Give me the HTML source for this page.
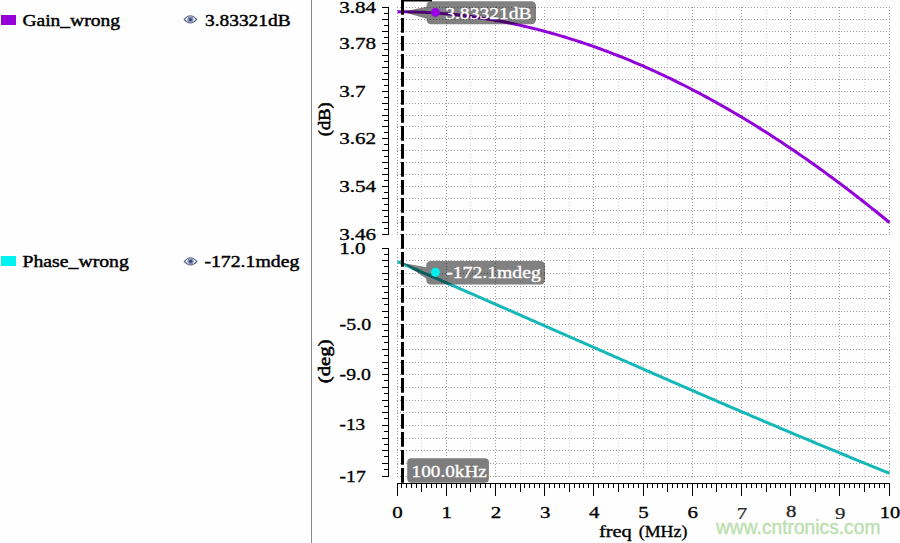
<!DOCTYPE html>
<html><head><meta charset="utf-8"><title>Waveform</title>
<style>html,body{margin:0;padding:0;background:#fefefe;width:900px;height:543px;overflow:hidden}svg{display:block}</style>
</head><body>
<svg width="900" height="543" viewBox="0 0 900 543">
<rect width="900" height="543" fill="#fefefe"/>
<rect x="311" y="0" width="1" height="543" fill="#8a8a8a"/>
<g shape-rendering="crispEdges"><line x1="397.5" y1="7" x2="397.5" y2="235" stroke="#9c9c9c" stroke-width="1" stroke-dasharray="1 2"/><line x1="421.5" y1="7" x2="421.5" y2="235" stroke="#d4d4d4" stroke-width="1" stroke-dasharray="1 2"/><line x1="446.5" y1="7" x2="446.5" y2="235" stroke="#9c9c9c" stroke-width="1" stroke-dasharray="1 2"/><line x1="470.5" y1="7" x2="470.5" y2="235" stroke="#d4d4d4" stroke-width="1" stroke-dasharray="1 2"/><line x1="495.5" y1="7" x2="495.5" y2="235" stroke="#9c9c9c" stroke-width="1" stroke-dasharray="1 2"/><line x1="520.5" y1="7" x2="520.5" y2="235" stroke="#d4d4d4" stroke-width="1" stroke-dasharray="1 2"/><line x1="544.5" y1="7" x2="544.5" y2="235" stroke="#9c9c9c" stroke-width="1" stroke-dasharray="1 2"/><line x1="569.5" y1="7" x2="569.5" y2="235" stroke="#d4d4d4" stroke-width="1" stroke-dasharray="1 2"/><line x1="593.5" y1="7" x2="593.5" y2="235" stroke="#9c9c9c" stroke-width="1" stroke-dasharray="1 2"/><line x1="618.5" y1="7" x2="618.5" y2="235" stroke="#d4d4d4" stroke-width="1" stroke-dasharray="1 2"/><line x1="643.5" y1="7" x2="643.5" y2="235" stroke="#9c9c9c" stroke-width="1" stroke-dasharray="1 2"/><line x1="667.5" y1="7" x2="667.5" y2="235" stroke="#d4d4d4" stroke-width="1" stroke-dasharray="1 2"/><line x1="692.5" y1="7" x2="692.5" y2="235" stroke="#9c9c9c" stroke-width="1" stroke-dasharray="1 2"/><line x1="716.5" y1="7" x2="716.5" y2="235" stroke="#d4d4d4" stroke-width="1" stroke-dasharray="1 2"/><line x1="741.5" y1="7" x2="741.5" y2="235" stroke="#9c9c9c" stroke-width="1" stroke-dasharray="1 2"/><line x1="766.5" y1="7" x2="766.5" y2="235" stroke="#d4d4d4" stroke-width="1" stroke-dasharray="1 2"/><line x1="790.5" y1="7" x2="790.5" y2="235" stroke="#9c9c9c" stroke-width="1" stroke-dasharray="1 2"/><line x1="815.5" y1="7" x2="815.5" y2="235" stroke="#d4d4d4" stroke-width="1" stroke-dasharray="1 2"/><line x1="839.5" y1="7" x2="839.5" y2="235" stroke="#9c9c9c" stroke-width="1" stroke-dasharray="1 2"/><line x1="864.5" y1="7" x2="864.5" y2="235" stroke="#d4d4d4" stroke-width="1" stroke-dasharray="1 2"/><line x1="889.5" y1="7" x2="889.5" y2="235" stroke="#9c9c9c" stroke-width="1" stroke-dasharray="1 2"/><line x1="397" y1="7.5" x2="890" y2="7.5" stroke="#9c9c9c" stroke-width="1" stroke-dasharray="1 2"/><line x1="397" y1="19.5" x2="890" y2="19.5" stroke="#9c9c9c" stroke-width="1" stroke-dasharray="1 2"/><line x1="397" y1="31.5" x2="890" y2="31.5" stroke="#9c9c9c" stroke-width="1" stroke-dasharray="1 2"/><line x1="397" y1="43.5" x2="890" y2="43.5" stroke="#9c9c9c" stroke-width="1" stroke-dasharray="1 2"/><line x1="397" y1="55.5" x2="890" y2="55.5" stroke="#9c9c9c" stroke-width="1" stroke-dasharray="1 2"/><line x1="397" y1="67.5" x2="890" y2="67.5" stroke="#9c9c9c" stroke-width="1" stroke-dasharray="1 2"/><line x1="397" y1="79.5" x2="890" y2="79.5" stroke="#9c9c9c" stroke-width="1" stroke-dasharray="1 2"/><line x1="397" y1="91.5" x2="890" y2="91.5" stroke="#9c9c9c" stroke-width="1" stroke-dasharray="1 2"/><line x1="397" y1="103.5" x2="890" y2="103.5" stroke="#9c9c9c" stroke-width="1" stroke-dasharray="1 2"/><line x1="397" y1="115.5" x2="890" y2="115.5" stroke="#9c9c9c" stroke-width="1" stroke-dasharray="1 2"/><line x1="397" y1="126.5" x2="890" y2="126.5" stroke="#9c9c9c" stroke-width="1" stroke-dasharray="1 2"/><line x1="397" y1="138.5" x2="890" y2="138.5" stroke="#9c9c9c" stroke-width="1" stroke-dasharray="1 2"/><line x1="397" y1="150.5" x2="890" y2="150.5" stroke="#9c9c9c" stroke-width="1" stroke-dasharray="1 2"/><line x1="397" y1="162.5" x2="890" y2="162.5" stroke="#9c9c9c" stroke-width="1" stroke-dasharray="1 2"/><line x1="397" y1="174.5" x2="890" y2="174.5" stroke="#9c9c9c" stroke-width="1" stroke-dasharray="1 2"/><line x1="397" y1="186.5" x2="890" y2="186.5" stroke="#9c9c9c" stroke-width="1" stroke-dasharray="1 2"/><line x1="397" y1="198.5" x2="890" y2="198.5" stroke="#9c9c9c" stroke-width="1" stroke-dasharray="1 2"/><line x1="397" y1="210.5" x2="890" y2="210.5" stroke="#9c9c9c" stroke-width="1" stroke-dasharray="1 2"/><line x1="397" y1="222.5" x2="890" y2="222.5" stroke="#9c9c9c" stroke-width="1" stroke-dasharray="1 2"/><line x1="397" y1="234.5" x2="890" y2="234.5" stroke="#9c9c9c" stroke-width="1" stroke-dasharray="1 2"/><line x1="397.5" y1="248" x2="397.5" y2="477" stroke="#9c9c9c" stroke-width="1" stroke-dasharray="1 2"/><line x1="421.5" y1="248" x2="421.5" y2="477" stroke="#d4d4d4" stroke-width="1" stroke-dasharray="1 2"/><line x1="446.5" y1="248" x2="446.5" y2="477" stroke="#9c9c9c" stroke-width="1" stroke-dasharray="1 2"/><line x1="470.5" y1="248" x2="470.5" y2="477" stroke="#d4d4d4" stroke-width="1" stroke-dasharray="1 2"/><line x1="495.5" y1="248" x2="495.5" y2="477" stroke="#9c9c9c" stroke-width="1" stroke-dasharray="1 2"/><line x1="520.5" y1="248" x2="520.5" y2="477" stroke="#d4d4d4" stroke-width="1" stroke-dasharray="1 2"/><line x1="544.5" y1="248" x2="544.5" y2="477" stroke="#9c9c9c" stroke-width="1" stroke-dasharray="1 2"/><line x1="569.5" y1="248" x2="569.5" y2="477" stroke="#d4d4d4" stroke-width="1" stroke-dasharray="1 2"/><line x1="593.5" y1="248" x2="593.5" y2="477" stroke="#9c9c9c" stroke-width="1" stroke-dasharray="1 2"/><line x1="618.5" y1="248" x2="618.5" y2="477" stroke="#d4d4d4" stroke-width="1" stroke-dasharray="1 2"/><line x1="643.5" y1="248" x2="643.5" y2="477" stroke="#9c9c9c" stroke-width="1" stroke-dasharray="1 2"/><line x1="667.5" y1="248" x2="667.5" y2="477" stroke="#d4d4d4" stroke-width="1" stroke-dasharray="1 2"/><line x1="692.5" y1="248" x2="692.5" y2="477" stroke="#9c9c9c" stroke-width="1" stroke-dasharray="1 2"/><line x1="716.5" y1="248" x2="716.5" y2="477" stroke="#d4d4d4" stroke-width="1" stroke-dasharray="1 2"/><line x1="741.5" y1="248" x2="741.5" y2="477" stroke="#9c9c9c" stroke-width="1" stroke-dasharray="1 2"/><line x1="766.5" y1="248" x2="766.5" y2="477" stroke="#d4d4d4" stroke-width="1" stroke-dasharray="1 2"/><line x1="790.5" y1="248" x2="790.5" y2="477" stroke="#9c9c9c" stroke-width="1" stroke-dasharray="1 2"/><line x1="815.5" y1="248" x2="815.5" y2="477" stroke="#d4d4d4" stroke-width="1" stroke-dasharray="1 2"/><line x1="839.5" y1="248" x2="839.5" y2="477" stroke="#9c9c9c" stroke-width="1" stroke-dasharray="1 2"/><line x1="864.5" y1="248" x2="864.5" y2="477" stroke="#d4d4d4" stroke-width="1" stroke-dasharray="1 2"/><line x1="889.5" y1="248" x2="889.5" y2="477" stroke="#9c9c9c" stroke-width="1" stroke-dasharray="1 2"/><line x1="397" y1="248.5" x2="890" y2="248.5" stroke="#9c9c9c" stroke-width="1" stroke-dasharray="1 2"/><line x1="397" y1="260.5" x2="890" y2="260.5" stroke="#9c9c9c" stroke-width="1" stroke-dasharray="1 2"/><line x1="397" y1="273.5" x2="890" y2="273.5" stroke="#9c9c9c" stroke-width="1" stroke-dasharray="1 2"/><line x1="397" y1="286.5" x2="890" y2="286.5" stroke="#9c9c9c" stroke-width="1" stroke-dasharray="1 2"/><line x1="397" y1="298.5" x2="890" y2="298.5" stroke="#9c9c9c" stroke-width="1" stroke-dasharray="1 2"/><line x1="397" y1="311.5" x2="890" y2="311.5" stroke="#9c9c9c" stroke-width="1" stroke-dasharray="1 2"/><line x1="397" y1="324.5" x2="890" y2="324.5" stroke="#9c9c9c" stroke-width="1" stroke-dasharray="1 2"/><line x1="397" y1="336.5" x2="890" y2="336.5" stroke="#9c9c9c" stroke-width="1" stroke-dasharray="1 2"/><line x1="397" y1="349.5" x2="890" y2="349.5" stroke="#9c9c9c" stroke-width="1" stroke-dasharray="1 2"/><line x1="397" y1="362.5" x2="890" y2="362.5" stroke="#9c9c9c" stroke-width="1" stroke-dasharray="1 2"/><line x1="397" y1="374.5" x2="890" y2="374.5" stroke="#9c9c9c" stroke-width="1" stroke-dasharray="1 2"/><line x1="397" y1="387.5" x2="890" y2="387.5" stroke="#9c9c9c" stroke-width="1" stroke-dasharray="1 2"/><line x1="397" y1="400.5" x2="890" y2="400.5" stroke="#9c9c9c" stroke-width="1" stroke-dasharray="1 2"/><line x1="397" y1="412.5" x2="890" y2="412.5" stroke="#9c9c9c" stroke-width="1" stroke-dasharray="1 2"/><line x1="397" y1="425.5" x2="890" y2="425.5" stroke="#9c9c9c" stroke-width="1" stroke-dasharray="1 2"/><line x1="397" y1="438.5" x2="890" y2="438.5" stroke="#9c9c9c" stroke-width="1" stroke-dasharray="1 2"/><line x1="397" y1="450.5" x2="890" y2="450.5" stroke="#9c9c9c" stroke-width="1" stroke-dasharray="1 2"/><line x1="397" y1="463.5" x2="890" y2="463.5" stroke="#9c9c9c" stroke-width="1" stroke-dasharray="1 2"/><line x1="397" y1="476.5" x2="890" y2="476.5" stroke="#9c9c9c" stroke-width="1" stroke-dasharray="1 2"/></g>
<g shape-rendering="crispEdges"><rect x="388" y="7" width="1" height="228" fill="#000"/><rect x="388" y="248" width="1" height="229" fill="#000"/><rect x="382" y="7" width="6" height="1" fill="#000"/><rect x="384" y="13" width="4" height="1" fill="#000"/><rect x="382" y="19" width="6" height="1" fill="#000"/><rect x="384" y="25" width="4" height="1" fill="#000"/><rect x="382" y="31" width="6" height="1" fill="#000"/><rect x="384" y="37" width="4" height="1" fill="#000"/><rect x="382" y="43" width="6" height="1" fill="#000"/><rect x="384" y="49" width="4" height="1" fill="#000"/><rect x="382" y="55" width="6" height="1" fill="#000"/><rect x="384" y="61" width="4" height="1" fill="#000"/><rect x="382" y="67" width="6" height="1" fill="#000"/><rect x="384" y="73" width="4" height="1" fill="#000"/><rect x="382" y="79" width="6" height="1" fill="#000"/><rect x="384" y="85" width="4" height="1" fill="#000"/><rect x="382" y="91" width="6" height="1" fill="#000"/><rect x="384" y="97" width="4" height="1" fill="#000"/><rect x="382" y="103" width="6" height="1" fill="#000"/><rect x="384" y="109" width="4" height="1" fill="#000"/><rect x="382" y="115" width="6" height="1" fill="#000"/><rect x="384" y="120" width="4" height="1" fill="#000"/><rect x="382" y="126" width="6" height="1" fill="#000"/><rect x="384" y="132" width="4" height="1" fill="#000"/><rect x="382" y="138" width="6" height="1" fill="#000"/><rect x="384" y="144" width="4" height="1" fill="#000"/><rect x="382" y="150" width="6" height="1" fill="#000"/><rect x="384" y="156" width="4" height="1" fill="#000"/><rect x="382" y="162" width="6" height="1" fill="#000"/><rect x="384" y="168" width="4" height="1" fill="#000"/><rect x="382" y="174" width="6" height="1" fill="#000"/><rect x="384" y="180" width="4" height="1" fill="#000"/><rect x="382" y="186" width="6" height="1" fill="#000"/><rect x="384" y="192" width="4" height="1" fill="#000"/><rect x="382" y="198" width="6" height="1" fill="#000"/><rect x="384" y="204" width="4" height="1" fill="#000"/><rect x="382" y="210" width="6" height="1" fill="#000"/><rect x="384" y="216" width="4" height="1" fill="#000"/><rect x="382" y="222" width="6" height="1" fill="#000"/><rect x="384" y="228" width="4" height="1" fill="#000"/><rect x="382" y="234" width="6" height="1" fill="#000"/><rect x="382" y="248" width="6" height="1" fill="#000"/><rect x="384" y="254" width="4" height="1" fill="#000"/><rect x="382" y="260" width="6" height="1" fill="#000"/><rect x="384" y="266" width="4" height="1" fill="#000"/><rect x="382" y="273" width="6" height="1" fill="#000"/><rect x="384" y="279" width="4" height="1" fill="#000"/><rect x="382" y="286" width="6" height="1" fill="#000"/><rect x="384" y="292" width="4" height="1" fill="#000"/><rect x="382" y="298" width="6" height="1" fill="#000"/><rect x="384" y="304" width="4" height="1" fill="#000"/><rect x="382" y="311" width="6" height="1" fill="#000"/><rect x="384" y="317" width="4" height="1" fill="#000"/><rect x="382" y="324" width="6" height="1" fill="#000"/><rect x="384" y="330" width="4" height="1" fill="#000"/><rect x="382" y="336" width="6" height="1" fill="#000"/><rect x="384" y="342" width="4" height="1" fill="#000"/><rect x="382" y="349" width="6" height="1" fill="#000"/><rect x="384" y="355" width="4" height="1" fill="#000"/><rect x="382" y="362" width="6" height="1" fill="#000"/><rect x="384" y="368" width="4" height="1" fill="#000"/><rect x="382" y="374" width="6" height="1" fill="#000"/><rect x="384" y="380" width="4" height="1" fill="#000"/><rect x="382" y="387" width="6" height="1" fill="#000"/><rect x="384" y="393" width="4" height="1" fill="#000"/><rect x="382" y="400" width="6" height="1" fill="#000"/><rect x="384" y="406" width="4" height="1" fill="#000"/><rect x="382" y="412" width="6" height="1" fill="#000"/><rect x="384" y="418" width="4" height="1" fill="#000"/><rect x="382" y="425" width="6" height="1" fill="#000"/><rect x="384" y="431" width="4" height="1" fill="#000"/><rect x="382" y="438" width="6" height="1" fill="#000"/><rect x="384" y="444" width="4" height="1" fill="#000"/><rect x="382" y="450" width="6" height="1" fill="#000"/><rect x="384" y="456" width="4" height="1" fill="#000"/><rect x="382" y="463" width="6" height="1" fill="#000"/><rect x="384" y="469" width="4" height="1" fill="#000"/><rect x="382" y="476" width="6" height="1" fill="#000"/><rect x="397" y="483" width="493" height="1" fill="#000"/><rect x="397" y="483" width="1" height="13" fill="#000"/><rect x="401" y="483" width="1" height="5" fill="#000"/><rect x="406" y="483" width="1" height="5" fill="#000"/><rect x="411" y="483" width="1" height="5" fill="#000"/><rect x="416" y="483" width="1" height="5" fill="#000"/><rect x="421" y="483" width="1" height="9" fill="#000"/><rect x="426" y="483" width="1" height="5" fill="#000"/><rect x="431" y="483" width="1" height="5" fill="#000"/><rect x="436" y="483" width="1" height="5" fill="#000"/><rect x="441" y="483" width="1" height="5" fill="#000"/><rect x="446" y="483" width="1" height="13" fill="#000"/><rect x="451" y="483" width="1" height="5" fill="#000"/><rect x="456" y="483" width="1" height="5" fill="#000"/><rect x="460" y="483" width="1" height="5" fill="#000"/><rect x="465" y="483" width="1" height="5" fill="#000"/><rect x="470" y="483" width="1" height="9" fill="#000"/><rect x="475" y="483" width="1" height="5" fill="#000"/><rect x="480" y="483" width="1" height="5" fill="#000"/><rect x="485" y="483" width="1" height="5" fill="#000"/><rect x="490" y="483" width="1" height="5" fill="#000"/><rect x="495" y="483" width="1" height="13" fill="#000"/><rect x="500" y="483" width="1" height="5" fill="#000"/><rect x="505" y="483" width="1" height="5" fill="#000"/><rect x="510" y="483" width="1" height="5" fill="#000"/><rect x="515" y="483" width="1" height="5" fill="#000"/><rect x="520" y="483" width="1" height="9" fill="#000"/><rect x="524" y="483" width="1" height="5" fill="#000"/><rect x="529" y="483" width="1" height="5" fill="#000"/><rect x="534" y="483" width="1" height="5" fill="#000"/><rect x="539" y="483" width="1" height="5" fill="#000"/><rect x="544" y="483" width="1" height="13" fill="#000"/><rect x="549" y="483" width="1" height="5" fill="#000"/><rect x="554" y="483" width="1" height="5" fill="#000"/><rect x="559" y="483" width="1" height="5" fill="#000"/><rect x="564" y="483" width="1" height="5" fill="#000"/><rect x="569" y="483" width="1" height="9" fill="#000"/><rect x="574" y="483" width="1" height="5" fill="#000"/><rect x="579" y="483" width="1" height="5" fill="#000"/><rect x="583" y="483" width="1" height="5" fill="#000"/><rect x="588" y="483" width="1" height="5" fill="#000"/><rect x="593" y="483" width="1" height="13" fill="#000"/><rect x="598" y="483" width="1" height="5" fill="#000"/><rect x="603" y="483" width="1" height="5" fill="#000"/><rect x="608" y="483" width="1" height="5" fill="#000"/><rect x="613" y="483" width="1" height="5" fill="#000"/><rect x="618" y="483" width="1" height="9" fill="#000"/><rect x="623" y="483" width="1" height="5" fill="#000"/><rect x="628" y="483" width="1" height="5" fill="#000"/><rect x="633" y="483" width="1" height="5" fill="#000"/><rect x="638" y="483" width="1" height="5" fill="#000"/><rect x="643" y="483" width="1" height="13" fill="#000"/><rect x="647" y="483" width="1" height="5" fill="#000"/><rect x="652" y="483" width="1" height="5" fill="#000"/><rect x="657" y="483" width="1" height="5" fill="#000"/><rect x="662" y="483" width="1" height="5" fill="#000"/><rect x="667" y="483" width="1" height="9" fill="#000"/><rect x="672" y="483" width="1" height="5" fill="#000"/><rect x="677" y="483" width="1" height="5" fill="#000"/><rect x="682" y="483" width="1" height="5" fill="#000"/><rect x="687" y="483" width="1" height="5" fill="#000"/><rect x="692" y="483" width="1" height="13" fill="#000"/><rect x="697" y="483" width="1" height="5" fill="#000"/><rect x="702" y="483" width="1" height="5" fill="#000"/><rect x="706" y="483" width="1" height="5" fill="#000"/><rect x="711" y="483" width="1" height="5" fill="#000"/><rect x="716" y="483" width="1" height="9" fill="#000"/><rect x="721" y="483" width="1" height="5" fill="#000"/><rect x="726" y="483" width="1" height="5" fill="#000"/><rect x="731" y="483" width="1" height="5" fill="#000"/><rect x="736" y="483" width="1" height="5" fill="#000"/><rect x="741" y="483" width="1" height="13" fill="#000"/><rect x="746" y="483" width="1" height="5" fill="#000"/><rect x="751" y="483" width="1" height="5" fill="#000"/><rect x="756" y="483" width="1" height="5" fill="#000"/><rect x="761" y="483" width="1" height="5" fill="#000"/><rect x="766" y="483" width="1" height="9" fill="#000"/><rect x="770" y="483" width="1" height="5" fill="#000"/><rect x="775" y="483" width="1" height="5" fill="#000"/><rect x="780" y="483" width="1" height="5" fill="#000"/><rect x="785" y="483" width="1" height="5" fill="#000"/><rect x="790" y="483" width="1" height="13" fill="#000"/><rect x="795" y="483" width="1" height="5" fill="#000"/><rect x="800" y="483" width="1" height="5" fill="#000"/><rect x="805" y="483" width="1" height="5" fill="#000"/><rect x="810" y="483" width="1" height="5" fill="#000"/><rect x="815" y="483" width="1" height="9" fill="#000"/><rect x="820" y="483" width="1" height="5" fill="#000"/><rect x="825" y="483" width="1" height="5" fill="#000"/><rect x="829" y="483" width="1" height="5" fill="#000"/><rect x="834" y="483" width="1" height="5" fill="#000"/><rect x="839" y="483" width="1" height="13" fill="#000"/><rect x="844" y="483" width="1" height="5" fill="#000"/><rect x="849" y="483" width="1" height="5" fill="#000"/><rect x="854" y="483" width="1" height="5" fill="#000"/><rect x="859" y="483" width="1" height="5" fill="#000"/><rect x="864" y="483" width="1" height="9" fill="#000"/><rect x="869" y="483" width="1" height="5" fill="#000"/><rect x="874" y="483" width="1" height="5" fill="#000"/><rect x="879" y="483" width="1" height="5" fill="#000"/><rect x="884" y="483" width="1" height="5" fill="#000"/><rect x="889" y="483" width="1" height="13" fill="#000"/></g>
<g><path d="M397.50,11.79 L399.96,11.79 L402.42,11.79 L404.88,11.81 L407.34,11.84 L409.80,11.88 L412.26,11.93 L414.72,12.00 L417.18,12.07 L419.64,12.16 L422.10,12.25 L424.56,12.36 L427.02,12.48 L429.48,12.62 L431.94,12.76 L434.40,12.91 L436.86,13.08 L439.32,13.26 L441.78,13.45 L444.24,13.65 L446.70,13.86 L449.16,14.08 L451.62,14.32 L454.08,14.56 L456.54,14.82 L459.00,15.09 L461.46,15.37 L463.92,15.66 L466.38,15.96 L468.84,16.27 L471.30,16.60 L473.76,16.93 L476.22,17.28 L478.68,17.63 L481.14,18.00 L483.60,18.38 L486.06,18.77 L488.52,19.18 L490.98,19.59 L493.44,20.01 L495.90,20.45 L498.36,20.90 L500.82,21.35 L503.28,21.82 L505.74,22.30 L508.20,22.79 L510.66,23.29 L513.12,23.80 L515.58,24.33 L518.04,24.86 L520.50,25.41 L522.96,25.96 L525.42,26.53 L527.88,27.11 L530.34,27.69 L532.80,28.29 L535.26,28.90 L537.72,29.52 L540.18,30.16 L542.64,30.80 L545.10,31.45 L547.56,32.12 L550.02,32.79 L552.48,33.48 L554.94,34.17 L557.40,34.88 L559.86,35.60 L562.32,36.32 L564.78,37.06 L567.24,37.81 L569.70,38.57 L572.16,39.34 L574.62,40.12 L577.08,40.92 L579.54,41.72 L582.00,42.53 L584.46,43.35 L586.92,44.19 L589.38,45.03 L591.84,45.89 L594.30,46.75 L596.76,47.63 L599.22,48.52 L601.68,49.41 L604.14,50.32 L606.60,51.24 L609.06,52.17 L611.52,53.10 L613.98,54.05 L616.44,55.01 L618.90,55.98 L621.36,56.96 L623.82,57.95 L626.28,58.95 L628.74,59.96 L631.20,60.98 L633.66,62.02 L636.12,63.06 L638.58,64.11 L641.04,65.17 L643.50,66.24 L645.96,67.32 L648.42,68.42 L650.88,69.52 L653.34,70.63 L655.80,71.76 L658.26,72.89 L660.72,74.03 L663.18,75.18 L665.64,76.35 L668.10,77.52 L670.56,78.70 L673.02,79.90 L675.48,81.10 L677.94,82.31 L680.40,83.54 L682.86,84.77 L685.32,86.01 L687.78,87.27 L690.24,88.53 L692.70,89.80 L695.16,91.09 L697.62,92.38 L700.08,93.68 L702.54,94.99 L705.00,96.32 L707.46,97.65 L709.92,98.99 L712.38,100.34 L714.84,101.71 L717.30,103.08 L719.76,104.46 L722.22,105.85 L724.68,107.25 L727.14,108.66 L729.60,110.08 L732.06,111.51 L734.52,112.95 L736.98,114.40 L739.44,115.86 L741.90,117.33 L744.36,118.80 L746.82,120.29 L749.28,121.79 L751.74,123.29 L754.20,124.81 L756.66,126.34 L759.12,127.87 L761.58,129.42 L764.04,130.97 L766.50,132.54 L768.96,134.11 L771.42,135.69 L773.88,137.28 L776.34,138.89 L778.80,140.50 L781.26,142.12 L783.72,143.75 L786.18,145.39 L788.64,147.03 L791.10,148.69 L793.56,150.36 L796.02,152.04 L798.48,153.72 L800.94,155.42 L803.40,157.12 L805.86,158.84 L808.32,160.56 L810.78,162.29 L813.24,164.03 L815.70,165.78 L818.16,167.54 L820.62,169.31 L823.08,171.09 L825.54,172.88 L828.00,174.67 L830.46,176.48 L832.92,178.30 L835.38,180.12 L837.84,181.95 L840.30,183.79 L842.76,185.65 L845.22,187.51 L847.68,189.37 L850.14,191.25 L852.60,193.14 L855.06,195.04 L857.52,196.94 L859.98,198.85 L862.44,200.78 L864.90,202.71 L867.36,204.65 L869.82,206.60 L872.28,208.56 L874.74,210.53 L877.20,212.50 L879.66,214.49 L882.12,216.48 L884.58,218.48 L887.04,220.50 L889.50,222.52" fill="none" stroke="#9200da" stroke-width="3" stroke-linejoin="round"/><path d="M397.50,261.65 L399.96,262.70 L402.42,263.76 L404.88,264.82 L407.34,265.88 L409.80,266.95 L412.26,268.01 L414.72,269.07 L417.18,270.13 L419.64,271.20 L422.10,272.26 L424.56,273.33 L427.02,274.39 L429.48,275.46 L431.94,276.53 L434.40,277.59 L436.86,278.66 L439.32,279.73 L441.78,280.80 L444.24,281.87 L446.70,282.94 L449.16,284.01 L451.62,285.08 L454.08,286.15 L456.54,287.22 L459.00,288.30 L461.46,289.37 L463.92,290.44 L466.38,291.52 L468.84,292.59 L471.30,293.66 L473.76,294.74 L476.22,295.81 L478.68,296.89 L481.14,297.96 L483.60,299.04 L486.06,300.12 L488.52,301.19 L490.98,302.27 L493.44,303.35 L495.90,304.43 L498.36,305.50 L500.82,306.58 L503.28,307.66 L505.74,308.74 L508.20,309.82 L510.66,310.90 L513.12,311.98 L515.58,313.06 L518.04,314.14 L520.50,315.21 L522.96,316.29 L525.42,317.38 L527.88,318.46 L530.34,319.54 L532.80,320.62 L535.26,321.70 L537.72,322.78 L540.18,323.86 L542.64,324.94 L545.10,326.02 L547.56,327.10 L550.02,328.18 L552.48,329.26 L554.94,330.35 L557.40,331.43 L559.86,332.51 L562.32,333.59 L564.78,334.67 L567.24,335.75 L569.70,336.83 L572.16,337.92 L574.62,339.00 L577.08,340.08 L579.54,341.16 L582.00,342.24 L584.46,343.32 L586.92,344.40 L589.38,345.48 L591.84,346.56 L594.30,347.64 L596.76,348.72 L599.22,349.80 L601.68,350.88 L604.14,351.96 L606.60,353.04 L609.06,354.12 L611.52,355.20 L613.98,356.28 L616.44,357.36 L618.90,358.44 L621.36,359.52 L623.82,360.59 L626.28,361.67 L628.74,362.75 L631.20,363.83 L633.66,364.90 L636.12,365.98 L638.58,367.06 L641.04,368.13 L643.50,369.21 L645.96,370.28 L648.42,371.36 L650.88,372.43 L653.34,373.51 L655.80,374.58 L658.26,375.65 L660.72,376.73 L663.18,377.80 L665.64,378.87 L668.10,379.94 L670.56,381.01 L673.02,382.08 L675.48,383.15 L677.94,384.22 L680.40,385.29 L682.86,386.36 L685.32,387.43 L687.78,388.50 L690.24,389.56 L692.70,390.63 L695.16,391.70 L697.62,392.76 L700.08,393.83 L702.54,394.89 L705.00,395.95 L707.46,397.02 L709.92,398.08 L712.38,399.14 L714.84,400.20 L717.30,401.26 L719.76,402.32 L722.22,403.38 L724.68,404.44 L727.14,405.50 L729.60,406.56 L732.06,407.61 L734.52,408.67 L736.98,409.72 L739.44,410.78 L741.90,411.83 L744.36,412.88 L746.82,413.93 L749.28,414.98 L751.74,416.04 L754.20,417.08 L756.66,418.13 L759.12,419.18 L761.58,420.23 L764.04,421.27 L766.50,422.32 L768.96,423.36 L771.42,424.41 L773.88,425.45 L776.34,426.49 L778.80,427.53 L781.26,428.57 L783.72,429.61 L786.18,430.65 L788.64,431.69 L791.10,432.72 L793.56,433.76 L796.02,434.79 L798.48,435.82 L800.94,436.86 L803.40,437.89 L805.86,438.92 L808.32,439.95 L810.78,440.97 L813.24,442.00 L815.70,443.03 L818.16,444.05 L820.62,445.07 L823.08,446.10 L825.54,447.12 L828.00,448.14 L830.46,449.16 L832.92,450.18 L835.38,451.19 L837.84,452.21 L840.30,453.22 L842.76,454.24 L845.22,455.25 L847.68,456.26 L850.14,457.27 L852.60,458.28 L855.06,459.28 L857.52,460.29 L859.98,461.29 L862.44,462.30 L864.90,463.30 L867.36,464.30 L869.82,465.30 L872.28,466.30 L874.74,467.30 L877.20,468.29 L879.66,469.29 L882.12,470.28 L884.58,471.27 L887.04,472.26 L889.50,473.25" fill="none" stroke="#14b8b8" stroke-width="3" stroke-linejoin="round"/></g>
<g><line x1="402.5" y1="0" x2="402.5" y2="483" stroke="#000" stroke-width="3" stroke-dasharray="14.7 3.3"/><rect x="401" y="0" width="31" height="1.5" fill="#000"/></g>
<g><path d="M402.5,11.8 L426.5,6.75 L426.5,6.3 Q426.5,1.3 431.5,1.3 L531.0,1.3 Q536.0,1.3 536.0,6.3 L536.0,19.2 Q536.0,24.2 531.0,24.2 L431.5,24.2 Q426.5,24.2 426.5,19.2 L426.5,18.75 Z" fill="rgba(0,0,0,0.49)"/><circle cx="435.4" cy="12.4" r="4.5" fill="#9a00e6"/><path d="M402.8,263.1 L426.2,267.2 L426.2,266.0 Q426.2,261.0 431.2,261.0 L540.0,261.0 Q545.0,261.0 545.0,266.0 L545.0,279.6 Q545.0,284.6 540.0,284.6 L431.2,284.6 Q426.2,284.6 426.2,279.6 L426.2,278.40000000000003 Z" fill="rgba(0,0,0,0.49)"/><circle cx="435.4" cy="272.2" r="4.5" fill="#00f0f0"/><rect x="407.2" y="458.3" width="81.7" height="24.5" rx="4" fill="#7d7d7d"/></g>
<g><rect x="1" y="15" width="15" height="10" fill="#9400d8"/><rect x="1" y="256" width="15" height="10" fill="#00f2f2"/><path d="M184.1,19.4 Q190.4,12.2 196.70000000000002,19.4 Q190.4,26.599999999999998 184.1,19.4 Z" fill="#f4f6fb" stroke="#5a6384" stroke-width="1.1"/><circle cx="190.4" cy="19.4" r="3.1" fill="#8292bc"/><circle cx="190.4" cy="19.4" r="1.5" fill="#36466c"/><path d="M184.29999999999998,261.3 Q190.6,254.10000000000002 196.9,261.3 Q190.6,268.5 184.29999999999998,261.3 Z" fill="#f4f6fb" stroke="#5a6384" stroke-width="1.1"/><circle cx="190.6" cy="261.3" r="3.1" fill="#8292bc"/><circle cx="190.6" cy="261.3" r="1.5" fill="#36466c"/></g>
<g><text x="445.2" y="18.7" style="font-family:&quot;Liberation Serif&quot;,serif;font-size:17.3px;font-weight:normal;fill:#fff;stroke:#fff;stroke-width:0.35px;" text-anchor="start" textLength="86.5" lengthAdjust="spacingAndGlyphs">3.83321dB</text><text x="446.2" y="278.4" style="font-family:&quot;Liberation Serif&quot;,serif;font-size:17.3px;font-weight:normal;fill:#fff;stroke:#fff;stroke-width:0.35px;" text-anchor="start" textLength="94.6" lengthAdjust="spacingAndGlyphs">-172.1mdeg</text><text x="411.6" y="476.7" style="font-family:&quot;Liberation Serif&quot;,serif;font-size:17.6px;font-weight:normal;fill:#fff;stroke:#fff;stroke-width:0.35px;" text-anchor="start" textLength="75.2" lengthAdjust="spacingAndGlyphs">100.0kHz</text><text x="22.4" y="25.8" style="font-family:&quot;Liberation Serif&quot;,serif;font-size:17.6px;font-weight:normal;fill:#000;stroke:#000;stroke-width:0.45px;" text-anchor="start" textLength="97.6" lengthAdjust="spacingAndGlyphs">Gain_wrong</text><text x="205.0" y="25.5" style="font-family:&quot;Liberation Serif&quot;,serif;font-size:17.6px;font-weight:normal;fill:#000;stroke:#000;stroke-width:0.45px;" text-anchor="start" textLength="85.6" lengthAdjust="spacingAndGlyphs">3.83321dB</text><text x="22.5" y="267" style="font-family:&quot;Liberation Serif&quot;,serif;font-size:17.6px;font-weight:normal;fill:#000;stroke:#000;stroke-width:0.45px;" text-anchor="start" textLength="106.3" lengthAdjust="spacingAndGlyphs">Phase_wrong</text><text x="204.4" y="266.6" style="font-family:&quot;Liberation Serif&quot;,serif;font-size:17.6px;font-weight:normal;fill:#000;stroke:#000;stroke-width:0.45px;" text-anchor="start" textLength="94.9" lengthAdjust="spacingAndGlyphs">-172.1mdeg</text><text transform="translate(339.2,12.9) scale(1.2139,1)" x="0" y="0" style="font-family:&quot;Liberation Serif&quot;,serif;font-size:17.4px;font-weight:normal;fill:#000;stroke:#000;stroke-width:0.35px;" text-anchor="start">3.84</text><text transform="translate(339.2,48.8) scale(1.2139,1)" x="0" y="0" style="font-family:&quot;Liberation Serif&quot;,serif;font-size:17.4px;font-weight:normal;fill:#000;stroke:#000;stroke-width:0.35px;" text-anchor="start">3.78</text><text transform="translate(339.2,96.8) scale(1.2139,1)" x="0" y="0" style="font-family:&quot;Liberation Serif&quot;,serif;font-size:17.4px;font-weight:normal;fill:#000;stroke:#000;stroke-width:0.35px;" text-anchor="start">3.7</text><text transform="translate(339.2,143.8) scale(1.2139,1)" x="0" y="0" style="font-family:&quot;Liberation Serif&quot;,serif;font-size:17.4px;font-weight:normal;fill:#000;stroke:#000;stroke-width:0.35px;" text-anchor="start">3.62</text><text transform="translate(339.2,192.3) scale(1.2139,1)" x="0" y="0" style="font-family:&quot;Liberation Serif&quot;,serif;font-size:17.4px;font-weight:normal;fill:#000;stroke:#000;stroke-width:0.35px;" text-anchor="start">3.54</text><text transform="translate(339.2,240.1) scale(1.2139,1)" x="0" y="0" style="font-family:&quot;Liberation Serif&quot;,serif;font-size:17.4px;font-weight:normal;fill:#000;stroke:#000;stroke-width:0.35px;" text-anchor="start">3.46</text><text transform="translate(339.2,254.1) scale(1.2139,1)" x="0" y="0" style="font-family:&quot;Liberation Serif&quot;,serif;font-size:17.4px;font-weight:normal;fill:#000;stroke:#000;stroke-width:0.35px;" text-anchor="start">1.0</text><text transform="translate(339.6,330.1) scale(1.14425,1)" x="0" y="0" style="font-family:&quot;Liberation Serif&quot;,serif;font-size:17.4px;font-weight:normal;fill:#000;stroke:#000;stroke-width:0.35px;" text-anchor="start">-5.0</text><text transform="translate(339.6,380.4) scale(1.1342999999999999,1)" x="0" y="0" style="font-family:&quot;Liberation Serif&quot;,serif;font-size:17.4px;font-weight:normal;fill:#000;stroke:#000;stroke-width:0.35px;" text-anchor="start">-9.0</text><text transform="translate(339.6,430.1) scale(1.1044500000000002,1)" x="0" y="0" style="font-family:&quot;Liberation Serif&quot;,serif;font-size:17.4px;font-weight:normal;fill:#000;stroke:#000;stroke-width:0.35px;" text-anchor="start">-13</text><text transform="translate(339.6,482) scale(1.12435,1)" x="0" y="0" style="font-family:&quot;Liberation Serif&quot;,serif;font-size:17.4px;font-weight:normal;fill:#000;stroke:#000;stroke-width:0.35px;" text-anchor="start">-17</text><text transform="translate(397.5,517.9) scale(1.2,1)" x="0" y="0" style="font-family:&quot;Liberation Serif&quot;,serif;font-size:17.4px;font-weight:normal;fill:#000;stroke:#000;stroke-width:0.35px;" text-anchor="middle">0</text><text transform="translate(446.7,517.9) scale(1.2,1)" x="0" y="0" style="font-family:&quot;Liberation Serif&quot;,serif;font-size:17.4px;font-weight:normal;fill:#000;stroke:#000;stroke-width:0.35px;" text-anchor="middle">1</text><text transform="translate(495.9,517.9) scale(1.2,1)" x="0" y="0" style="font-family:&quot;Liberation Serif&quot;,serif;font-size:17.4px;font-weight:normal;fill:#000;stroke:#000;stroke-width:0.35px;" text-anchor="middle">2</text><text transform="translate(545.1,517.9) scale(1.2,1)" x="0" y="0" style="font-family:&quot;Liberation Serif&quot;,serif;font-size:17.4px;font-weight:normal;fill:#000;stroke:#000;stroke-width:0.35px;" text-anchor="middle">3</text><text transform="translate(594.3,517.9) scale(1.2,1)" x="0" y="0" style="font-family:&quot;Liberation Serif&quot;,serif;font-size:17.4px;font-weight:normal;fill:#000;stroke:#000;stroke-width:0.35px;" text-anchor="middle">4</text><text transform="translate(643.5,517.9) scale(1.2,1)" x="0" y="0" style="font-family:&quot;Liberation Serif&quot;,serif;font-size:17.4px;font-weight:normal;fill:#000;stroke:#000;stroke-width:0.35px;" text-anchor="middle">5</text><text transform="translate(692.7,517.9) scale(1.2,1)" x="0" y="0" style="font-family:&quot;Liberation Serif&quot;,serif;font-size:17.4px;font-weight:normal;fill:#000;stroke:#000;stroke-width:0.35px;" text-anchor="middle">6</text><text transform="translate(741.9000000000001,518.9) scale(1.2,1)" x="0" y="0" style="font-family:&quot;Liberation Serif&quot;,serif;font-size:17.4px;font-weight:normal;fill:#2a2a2a;stroke:#2a2a2a;stroke-width:0.25px;" text-anchor="middle">7</text><text transform="translate(791.1,517.4) scale(1.2,1)" x="0" y="0" style="font-family:&quot;Liberation Serif&quot;,serif;font-size:17.4px;font-weight:normal;fill:#222;stroke:#222;stroke-width:0.35px;" text-anchor="middle">8</text><text transform="translate(840.3,518.9) scale(1.2,1)" x="0" y="0" style="font-family:&quot;Liberation Serif&quot;,serif;font-size:17.4px;font-weight:normal;fill:#2a2a2a;stroke:#2a2a2a;stroke-width:0.25px;" text-anchor="middle">9</text><text transform="translate(890.0,517.9) scale(1.17,1)" x="0" y="0" style="font-family:&quot;Liberation Serif&quot;,serif;font-size:17.4px;font-weight:normal;fill:#000;stroke:#000;stroke-width:0.35px;" text-anchor="middle">10</text><text x="599.0" y="537.4" style="font-family:&quot;Liberation Serif&quot;,serif;font-size:17.5px;font-weight:normal;fill:#000;stroke:#000;stroke-width:0.35px;" text-anchor="start" textLength="32.8" lengthAdjust="spacingAndGlyphs">freq</text><text x="638.8" y="537.4" style="font-family:&quot;Liberation Serif&quot;,serif;font-size:17.5px;font-weight:normal;fill:#000;stroke:#000;stroke-width:0.35px;" text-anchor="start" textLength="48.6" lengthAdjust="spacingAndGlyphs">(MHz)</text><text transform="translate(329.6,119.3) rotate(-90) scale(1.06,1)" x="0" y="0" text-anchor="middle" style="font-family:&quot;Liberation Serif&quot;,serif;font-size:17.4px;font-weight:normal;stroke:#000;stroke-width:0.55px">(dB)</text><text transform="translate(330.2,361.3) rotate(-90) scale(1.2,1)" x="0" y="0" text-anchor="middle" style="font-family:&quot;Liberation Serif&quot;,serif;font-size:17.4px;font-weight:normal;stroke:#000;stroke-width:0.55px">(deg)</text></g>
<text x="716" y="534" style="font-family:&quot;Liberation Sans&quot;,sans-serif;font-size:20px;fill:#bbe0ae;stroke:#bbe0ae;stroke-width:0.4px" textLength="164.4" lengthAdjust="spacingAndGlyphs">www.cntronics.com</text>
</svg>
</body></html>
